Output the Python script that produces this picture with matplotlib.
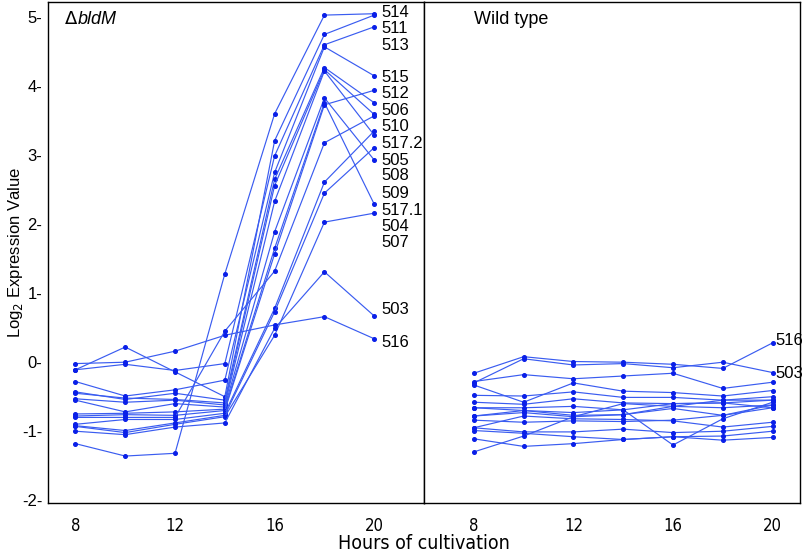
import matplotlib
matplotlib.use("Agg")
import matplotlib.pyplot as plt

hours = [8, 10, 12, 14, 16, 18, 20]

# bldM mutant, one row per gene cluster (hours 8..20)
bldm_series = [
    [-1.18, -1.36, -1.32, 1.28, 3.60, 5.03, 5.05],
    [-0.11, 0.22, -0.14, -0.50, 3.21, 4.75, 5.03],
    [-0.11, -0.03, -0.12, -0.02, 2.99, 4.60, 4.86],
    [-0.28, -0.49, -0.40, -0.26, 2.75, 4.57, 4.15],
    [-0.43, -0.54, -0.45, -0.55, 2.65, 4.27, 3.76],
    [-0.45, -0.52, -0.54, -0.59, 2.56, 4.24, 3.59],
    [-0.53, -0.58, -0.55, -0.62, 2.33, 4.22, 3.29],
    [-0.55, -0.72, -0.60, -0.65, 1.89, 3.83, 2.93],
    [-0.75, -0.74, -0.72, -0.68, 1.65, 3.76, 2.29],
    [-0.78, -0.76, -0.77, -0.70, 1.57, 3.73, 3.94],
    [-0.80, -0.80, -0.80, 0.45, 1.32, 3.18, 3.57],
    [-0.90, -0.83, -0.83, -0.74, 0.78, 2.61, 3.35],
    [-0.92, -0.99, -0.88, -0.77, 0.73, 2.45, 3.11],
    [-0.93, -1.02, -0.90, -0.79, 0.39, 2.03, 2.16],
    [-1.00, -1.05, -0.94, -0.88, 0.49, 1.31, 0.67],
    [-0.02, 0.00, 0.16, 0.39, 0.54, 0.66, 0.34],
]
bldm_labels = ["514", "511", "513", "515", "512", "506", "510", "517.2",
               "505", "508", "509", "517.1", "504", "507", "503", "516"]
bldm_label_y = [5.07, 4.84, 4.59, 4.13, 3.90, 3.65, 3.41, 3.17,
                2.93, 2.70, 2.45, 2.20, 1.97, 1.74, 0.77, 0.29]

# wild type
wt_series = [
    [-0.16, 0.08, 0.01, 0.00, -0.03, -0.09, 0.28],
    [-0.30, 0.05, -0.04, -0.02, -0.08, 0.00, -0.15],
    [-0.28, -0.18, -0.24, -0.20, -0.16, -0.38, -0.29],
    [-0.33, -0.58, -0.30, -0.42, -0.44, -0.49, -0.41],
    [-0.48, -0.49, -0.43, -0.51, -0.51, -0.55, -0.50],
    [-0.58, -0.61, -0.53, -0.59, -0.60, -0.59, -0.55],
    [-0.66, -0.66, -0.64, -0.69, -1.20, -0.82, -0.58],
    [-0.78, -0.70, -0.77, -0.76, -0.64, -0.66, -0.62],
    [-0.78, -0.73, -0.79, -0.76, -0.67, -0.77, -0.66],
    [-0.84, -0.87, -0.85, -0.86, -0.84, -0.77, -0.62],
    [-0.95, -0.78, -0.82, -0.83, -0.85, -0.94, -0.87],
    [-0.95, -1.01, -1.01, -0.97, -1.02, -1.00, -0.93],
    [-0.99, -1.03, -1.08, -1.12, -1.08, -1.07, -1.00],
    [-1.11, -1.22, -1.18, -1.12, -1.08, -1.13, -1.09],
    [-1.30, -1.07, -0.79, -0.60, -0.64, -0.55, -0.55],
    [-0.66, -0.70, -0.73, -0.69, -0.60, -0.59, -0.66],
]
wt_labels = ["516", "503"]
wt_label_y = [0.32, -0.16]

yticks = [-2, -1, 0, 1, 2, 3, 4, 5]
xticks = [8, 12, 16, 20]

line_col = "#3a5cf0"
dot_col = "#0a1fe8"
sans = "Liberation Sans"

fig = plt.figure(figsize=(8.02, 5.52), dpi=100)
ax1 = fig.add_axes([0.0599, 0.0888, 0.4688, 0.9076])
ax2 = fig.add_axes([0.5287, 0.0888, 0.4688, 0.9076], sharey=ax1)

for ax, series in [(ax1, bldm_series), (ax2, wt_series)]:
    for s in series:
        ax.plot(hours, s, color=line_col, lw=0.85, marker="o", ms=2.6,
                mfc=dot_col, mec=dot_col)
    for sp in ax.spines.values():
        sp.set_linewidth(1.0)
        sp.set_color("black")
    ax.set_xticks(xticks)
    ax.set_xticklabels([str(t) for t in xticks], family="DejaVu Sans",
                       fontstretch="condensed", fontsize=12)
    ax.tick_params(axis="x", length=0, pad=10)

ax1.set_xlim(6.9, 22.0)
ax2.set_xlim(6.0, 21.1)
ax1.set_ylim(-2.04, 5.22)

ax1.set_yticks(yticks)
ax1.set_yticklabels([f"{t}-" for t in yticks], family=sans, fontsize=12)
ax1.tick_params(axis="y", length=0, pad=4)
ax2.tick_params(axis="y", left=False, labelleft=False)

for lab, y in zip(bldm_labels, bldm_label_y):
    ax1.text(20.3, y, lab, fontsize=12, family=sans, va="center", ha="left")
for lab, y in zip(wt_labels, wt_label_y):
    ax2.text(20.1, y, lab, fontsize=12, family=sans, va="center", ha="left")

ax1.text(7.55, 4.96, r"$\Delta$", fontsize=13, family=sans, va="center")
ax1.text(8.1, 4.96, "bldM", fontsize=13, family=sans, style="italic", va="center")
ax2.text(8.0, 4.96, "Wild type", fontsize=13, family=sans, va="center")

# y label placed by hand so it stays inside the figure
fig.text(0.019, 0.543, r"Log$_2$ Expression Value", fontsize=12, family=sans,
         rotation=90, ha="center", va="center")
fig.text(0.5287, 0.016, "Hours of cultivation", fontsize=14, family="DejaVu Sans",
         fontstretch="condensed", ha="center", va="center")

fig.savefig("out.png", dpi=100)
